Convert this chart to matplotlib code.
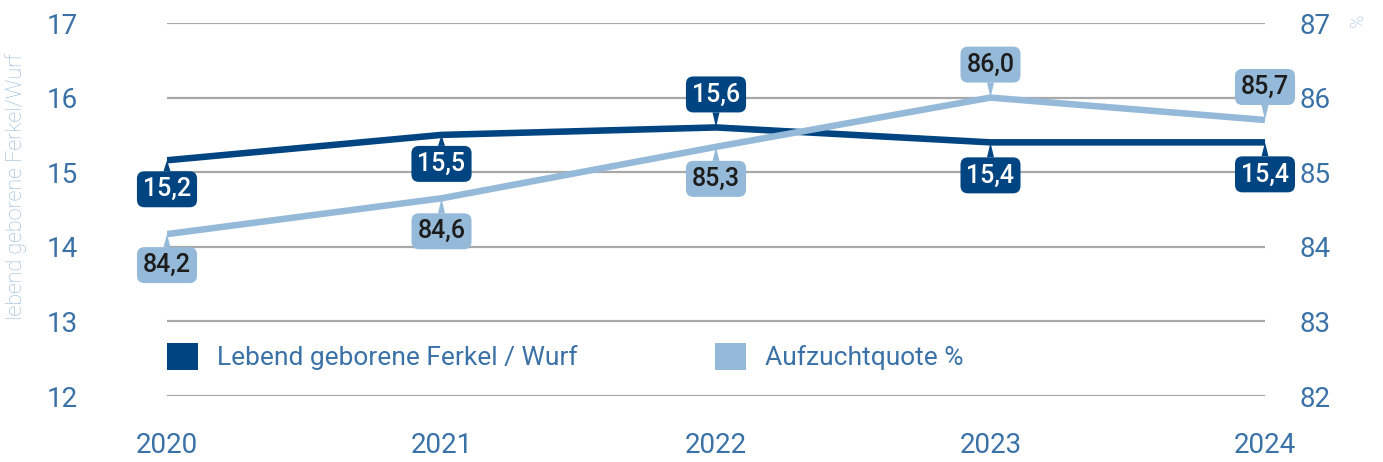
import matplotlib.pyplot as plt
from matplotlib.patches import Patch

plt.rcParams['font.family'] = ['Roboto', 'DejaVu Sans']

years = [2020, 2021, 2022, 2023, 2024]
ferkel = [15.16, 15.5, 15.6, 15.4, 15.4]
ferkel_labels = ['15,2', '15,5', '15,6', '15,4', '15,4']
quote = [84.17, 84.65, 85.34, 86.0, 85.7]
quote_labels = ['84,2', '84,6', '85,3', '86,0', '85,7']

# label offset from the point, in pixels (+ above, - below)
ferkel_pos = [-29, -29, 33, -33, -32]
quote_pos = [-31, -33, -32, 33, 33]

dark = '#004581'
light = '#95b9d8'
tick_col = '#3a72a8'
grid_col = '#a8a8a8'

fig = plt.figure(figsize=(13.83, 4.62), dpi=100)
ax = fig.add_axes([167/1383, 66/462, 1098/1383, 373/462])
ax2 = ax.twinx()

ax.set_xlim(2020, 2024)
ax.set_ylim(12, 17)
ax2.set_ylim(82, 87)

for y in range(12, 18):
    ax.axhline(y, color=grid_col, lw=1.6, zorder=0)

ax.plot(years, ferkel, color=dark, lw=4.7, zorder=3, solid_capstyle='butt')
ax2.plot(years, quote, color=light, lw=4.7, zorder=3, solid_capstyle='butt')


def callout(src, x, y, txt, dy, face, tc):
    # all callouts go on the top axes so that no line crosses a label
    ax2.annotate(txt, xy=(x, y), xycoords=src.transData,
                 xytext=(0, dy * 0.72), textcoords='offset points',
                 ha='center', va='center', fontsize=18, fontweight='medium', color=tc,
                 bbox=dict(boxstyle='round,pad=0.24,rounding_size=0.3', fc=face, ec='none'),
                 arrowprops=dict(arrowstyle='wedge,tail_width=0.28,shrink_factor=0.5',
                                 fc=face, ec='none', shrinkA=0, shrinkB=0),
                 zorder=6)


for x, y, t, d in zip(years, ferkel, ferkel_labels, ferkel_pos):
    callout(ax, x, y, t, d, dark, 'white')
for x, y, t, d in zip(years, quote, quote_labels, quote_pos):
    callout(ax2, x, y, t, d, light, '#1c1c1c')

for a in (ax, ax2):
    for s in a.spines.values():
        s.set_visible(False)
    a.tick_params(length=0, labelsize=20, labelcolor=tick_col)

ax.set_yticks(range(12, 18))
ax2.set_yticks(range(82, 88))
ax.set_xticks(years)
ax.tick_params(axis='x', pad=26)
ax.tick_params(axis='y', pad=64)
ax2.tick_params(axis='y', pad=25)

fig.text(0.012, 0.597, 'lebend geborene Ferkel/Wurf', rotation=90, ha='center', va='center',
         fontsize=15.5, color=light, fontweight='light')
fig.text(0.982, 0.955, '%', rotation=90, ha='center', va='center', fontsize=13,
         color=light, fontweight='light')

leg1 = ax2.legend([Patch(fc=dark, ec='none')], ['Lebend geborene Ferkel / Wurf'],
                  loc='center left', bbox_to_anchor=(0.0, 0.105), frameon=False,
                  fontsize=19, labelcolor=tick_col, handlelength=1.17, handleheight=1.17,
                  handletextpad=0.72, borderpad=0, borderaxespad=0)
ax2.add_artist(leg1)
leg2 = ax2.legend([Patch(fc=light, ec='none')], ['Aufzuchtquote %'],
                  loc='center left', bbox_to_anchor=((715 - 167) / 1098, 0.105), frameon=False,
                  fontsize=19, labelcolor=tick_col, handlelength=1.17, handleheight=1.17,
                  handletextpad=0.72, borderpad=0, borderaxespad=0)

fig.savefig('out.png', dpi=100)
